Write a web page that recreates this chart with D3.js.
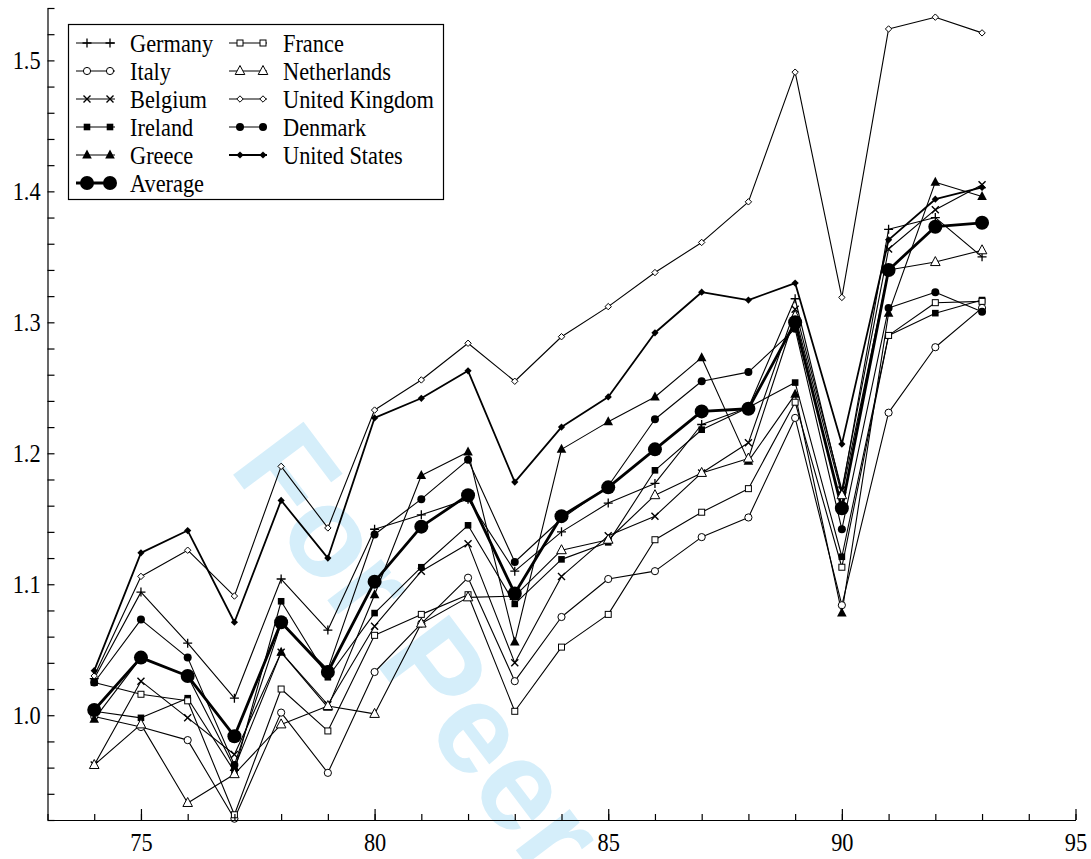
<!DOCTYPE html>
<html><head><meta charset="utf-8">
<script src="https://cdn.jsdelivr.net/npm/d3@7"></script>
</head><body style="margin:0">
<svg id="c" width="1091" height="859" style="font-family:'Liberation Serif',serif"></svg>
<script>
const years = [74,75,76,77,78,79,80,81,82,83,84,85,86,87,88,89,90,91,92,93];
const germany     = [1.028,1.094,1.055,1.013,1.104,1.065,1.142,1.153,1.165,1.110,1.140,1.162,1.177,1.222,1.235,1.318,1.170,1.371,1.380,1.350];
const italy       = [0.999,0.991,0.981,0.921,1.002,0.956,1.033,1.070,1.105,1.026,1.075,1.104,1.110,1.136,1.151,1.227,1.084,1.231,1.281,1.311];
const belgium     = [0.962,1.026,0.998,0.970,1.048,1.008,1.068,1.110,1.131,1.040,1.106,1.137,1.152,1.185,1.208,1.310,1.172,1.356,1.386,1.405];
const ireland     = [1.003,0.998,1.013,0.957,1.087,1.029,1.078,1.113,1.145,1.085,1.119,1.132,1.187,1.218,1.235,1.254,1.121,1.290,1.307,1.317];
const greece      = [0.997,1.044,1.030,0.960,1.048,1.006,1.092,1.183,1.201,1.056,1.203,1.224,1.243,1.273,1.194,1.245,1.078,1.307,1.407,1.396];
const average     = [1.004,1.044,1.030,0.984,1.071,1.033,1.102,1.144,1.168,1.093,1.152,1.174,1.203,1.232,1.234,1.300,1.158,1.340,1.373,1.376];
const france      = [1.025,1.016,1.011,0.924,1.020,0.988,1.061,1.077,1.092,1.003,1.052,1.077,1.134,1.155,1.173,1.239,1.113,1.290,1.315,1.316];
const netherlands = [0.962,0.993,0.933,0.955,0.993,1.007,1.001,1.070,1.090,1.091,1.126,1.134,1.168,1.185,1.196,1.305,1.168,1.340,1.346,1.355];
const uk          = [1.030,1.106,1.126,1.091,1.190,1.143,1.233,1.256,1.284,1.255,1.289,1.312,1.338,1.361,1.392,1.491,1.319,1.524,1.533,1.521];
const denmark     = [1.025,1.073,1.044,0.962,1.070,1.035,1.138,1.165,1.195,1.117,1.150,1.175,1.226,1.255,1.262,1.295,1.142,1.311,1.323,1.308];
const us          = [1.034,1.124,1.141,1.071,1.164,1.120,1.227,1.242,1.263,1.178,1.220,1.243,1.292,1.323,1.317,1.330,1.207,1.363,1.394,1.403];

const xLabels = [75,80,85,90,95];
const xMinorTicks = d3.range(73,96,1);
const yLabels = [1.0,1.1,1.2,1.3,1.4,1.5];
const yMinorTicks = d3.range(0,32).map(i => +(0.92 + i*0.02).toFixed(2));

const series = [
  {name:"Germany", values:germany, marker:"plus", lw:1.1, col:0, row:0},
  {name:"Italy", values:italy, marker:"circleOpen", lw:1.1, col:0, row:1},
  {name:"Belgium", values:belgium, marker:"cross", lw:1.1, col:0, row:2},
  {name:"Ireland", values:ireland, marker:"squareFilled", lw:1.1, col:0, row:3},
  {name:"Greece", values:greece, marker:"triFilled", lw:1.1, col:0, row:4},
  {name:"France", values:france, marker:"squareOpen", lw:1.1, col:1, row:0},
  {name:"Netherlands", values:netherlands, marker:"triOpen", lw:1.1, col:1, row:1},
  {name:"United Kingdom", values:uk, marker:"diamondOpen", lw:1.1, col:1, row:2},
  {name:"Denmark", values:denmark, marker:"circleFilled", lw:1.1, col:1, row:3},
  {name:"United States", values:us, marker:"diamondFilled", lw:1.8, col:1, row:4},
  {name:"Average", values:average, marker:"bigCircle", lw:2.8, col:0, row:5}
];

const SERIF = "'Liberation Serif', 'Times New Roman', Tinos, serif";
const FS = 26;
const SX = 0.86;
const svg = d3.select("#c");
const x = d3.scaleLinear().domain([73,95]).range([47.5,1075.5]);
const y = d3.scaleLinear().domain([0.92,1.54]).range([820,8]);

function serif(sel){
  return sel.style("font-family", SERIF)
            .style("font-size", FS + "px")
            .style("fill", "#000");
}

// watermark
svg.append("text").text("For Peer Review")
  .attr("transform","translate(228,468) rotate(53)")
  .style("font-family","'Liberation Sans', Arial, sans-serif")
  .style("font-weight","bold").style("font-size","128px")
  .style("fill","#d5eefa");

function drawMarker(g, type, cx, cy){
  const k = g.append("g").attr("transform",`translate(${cx},${cy})`);
  switch(type){
    case "plus": k.append("path").attr("d","M-4.5,0H4.5M0,-4.5V4.5").attr("stroke","#000").attr("stroke-width",1.3); break;
    case "cross": k.append("path").attr("d","M-3.5,-3.5L3.5,3.5M-3.5,3.5L3.5,-3.5").attr("stroke","#000").attr("stroke-width",1.4); break;
    case "circleOpen": k.append("circle").attr("r",3.6).attr("fill","#fff").attr("stroke","#000").attr("stroke-width",1); break;
    case "circleFilled": k.append("circle").attr("r",4).attr("fill","#000"); break;
    case "squareFilled": k.append("rect").attr("x",-3.3).attr("y",-3.3).attr("width",6.6).attr("height",6.6).attr("fill","#000"); break;
    case "squareOpen": k.append("rect").attr("x",-3).attr("y",-3).attr("width",6).attr("height",6).attr("fill","#fff").attr("stroke","#000").attr("stroke-width",1); break;
    case "triFilled": k.append("path").attr("d","M0,-5.5L4.8,3.5L-4.8,3.5Z").attr("fill","#000"); break;
    case "triOpen": k.append("path").attr("d","M0,-5.5L4.8,3.5L-4.8,3.5Z").attr("fill","#fff").attr("stroke","#000").attr("stroke-width",1); break;
    case "diamondOpen": k.append("path").attr("d","M0,-3.2L3.2,0L0,3.2L-3.2,0Z").attr("fill","#fff").attr("stroke","#000").attr("stroke-width",1); break;
    case "diamondFilled": k.append("path").attr("d","M0,-3.6L3.6,0L0,3.6L-3.6,0Z").attr("fill","#000"); break;
    case "bigCircle": k.append("circle").attr("r",7).attr("fill","#000"); break;
  }
}

const line = d3.line().x((d,i)=>x(years[i])).y(d=>y(d));
const plot = svg.append("g");
series.forEach(s=>{
  plot.append("path").datum(s.values).attr("d",line)
    .attr("fill","none").attr("stroke","#000").attr("stroke-width",s.lw).attr("stroke-linejoin","round");
});
series.forEach(s=>{
  const g = plot.append("g");
  s.values.forEach((v,i)=>drawMarker(g, s.marker, x(years[i]), y(v)));
});

// axes
const xMinor = d3.axisBottom(x).tickValues(xMinorTicks).tickSize(-6).tickSizeOuter(0).tickFormat("");
const xMajor = d3.axisBottom(x).tickValues(xLabels).tickSize(-11).tickSizeOuter(0).tickPadding(13).tickFormat(d3.format("d"));
const gx1 = svg.append("g").attr("transform","translate(0,820)").call(xMinor);
const gx2 = svg.append("g").attr("transform","translate(0,820)").call(xMajor);
gx2.select(".domain").remove();

const yAxis = d3.axisLeft(y).tickValues(yMinorTicks).tickSize(-7).tickSizeOuter(0).tickPadding(8)
  .tickFormat(d => yLabels.some(l=>Math.abs(l-d)<1e-6) ? d3.format(".1f")(d) : "");
const gy = svg.append("g").attr("transform","translate(47.5,0)").call(yAxis);

[gx1,gx2,gy].forEach(g=>{
  g.attr("font-family",null).attr("font-size",null);
  g.selectAll("path,line").attr("stroke","#000").attr("stroke-width",1.2);
  serif(g.selectAll("text"));
});
gy.selectAll("text").attr("transform",`scale(${SX},1)`);
gx2.selectAll("text").attr("transform",`scale(${SX},1)`);

// legend
const leg = svg.append("g");
leg.append("rect").attr("x",68.5).attr("y",24.5).attr("width",375).attr("height",175)
  .attr("fill","#fff").attr("stroke","#000").attr("stroke-width",1.2);
const colX = [{l0:76,l1:115,m0:87,m1:110,t:130},{l0:229,l1:267,m0:240,m1:263,t:283}];
series.forEach(s=>{
  const c = colX[s.col];
  const cy = 43 + s.row*28;
  const g = leg.append("g");
  g.append("line").attr("x1",c.l0).attr("x2",c.l1).attr("y1",cy).attr("y2",cy)
    .attr("stroke","#000").attr("stroke-width",s.lw);
  drawMarker(g, s.marker, c.m0, cy);
  drawMarker(g, s.marker, c.m1, cy);
  serif(g.append("text").text(s.name)
    .attr("transform",`translate(${c.t},${cy+9}) scale(${SX},1)`));
});
</script>
</body></html>
